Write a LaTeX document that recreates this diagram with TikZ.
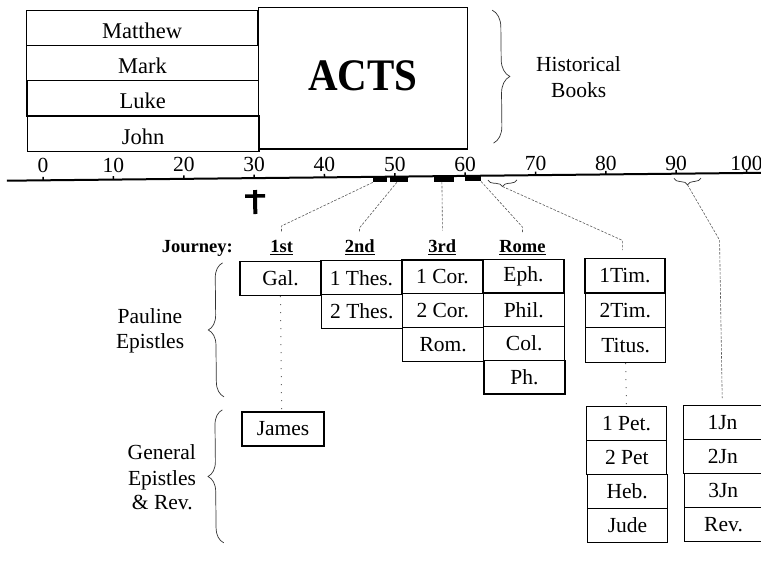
\documentclass[tikz,border=0pt]{standalone}
\usepackage{fontspec}
\setmainfont{Liberation Serif}
\usepackage{graphicx}
\usetikzlibrary{decorations.pathreplacing}
\begin{document}
\begin{tikzpicture}[x=1pt,y=-1pt,
  txt/.style={font=\fontsize{21.5}{25}\selectfont, inner sep=0pt, anchor=base},
  cell/.style={draw, line width=1.2pt, inner sep=0pt, font=\fontsize{21.5}{25}\selectfont},
  gospel/.style={cell, font=\fontsize{22.5}{25}\selectfont, minimum width=231.5pt, minimum height=35.3pt, text height=21pt, text depth=0pt},
  pcell/.style={cell, minimum width=81pt, minimum height=33.7pt},
  tcell/.style={cell, minimum width=80pt, minimum height=34.8pt},
  gcell/.style={cell, minimum width=80pt, minimum height=34pt},
  jcell/.style={cell, minimum width=78pt, minimum height=34pt},
  jlab/.style={font=\fontsize{18.5}{22}\selectfont\bfseries, inner sep=0pt, anchor=base},
  conn/.style={draw=black!65, line width=0.6pt, dash pattern=on 2.5pt off 1.5pt},
  dotline/.style={draw=black!60, line width=1pt, dash pattern=on 1pt off 7pt},
  bracestyle/.style={draw=black!80, line width=0.7pt, decorate, decoration={brace, amplitude=#1}},
  bar/.style={fill=black, inner sep=0pt, minimum height=6.5pt},
]
\useasboundingbox (0,0) rectangle (761,562);
\begin{scope}[rotate around={0.6:(380,281)}]
% Historical books
\node[gospel] (matt) at (144.75,25.35) {Matthew};
\node[gospel] (mark) at (144.75,60.65) {Mark};
\node[gospel] (luke) at (144.75,95.95) {Luke};
\node[gospel] (john) at (144.75,131.25) {John};
\node[cell, minimum width=209pt, minimum height=141.2pt] (acts) at (365,78.3) {};
\node[inner sep=0pt] (actstxt) at (365,75.8) {\scalebox{1}[1.1]{\fontsize{41}{41}\selectfont\bfseries ACTS}};
\draw[bracestyle=17] (495,11.3) -- (495,144.3);
\node[txt] (hist1) at (580.6,74) {Historical};
\node[txt] (hist2) at (580.6,100) {Books};
% timeline
\draw[line width=2pt] (8,176.8) -- (775,176.8);
\foreach \yr in {0,10,...,100}{
  \draw[line width=1.5pt] ({44.2+7.035*\yr},173.3) -- ({44.2+7.035*\yr},176.8);
  \node[txt] (yr\yr) at ({44.2+7.035*\yr},{168.9+0.05*\yr}) {\yr};
}
\node[bar, minimum width=14pt] (b1) at (381,179) {};
\node[bar, minimum width=18pt] (b2) at (400,179) {};
\node[bar, minimum width=20pt] (b3) at (445,179) {};
\node[bar, minimum width=16pt] (b4) at (474,179) {};
\draw[bracestyle=6.5] (518,181.3) -- (489,181.3);
\coordinate (br1) at (503.5,187.8);
\draw[bracestyle=6.5] (702,181.5) -- (675,181.5);
\coordinate (br2) at (688.5,188);
% cross
\draw[line width=4pt] (256,188.7) -- (256,212.7);
\draw[line width=3.5pt] (246,194.7) -- (266,194.7);
% journey labels
\node[jlab, anchor=base east] (journey) at (233.3,251.1) {Journey:};
\node[jlab] (j1) at (282,251.2) {\underline{1st}};
\node[jlab] (j2) at (360,252.2) {\underline{2nd}};
\node[jlab] (j3) at (442.5,253.2) {\underline{3rd}};
\node[jlab] (j4) at (522.7,254.1) {\underline{Rome}};
% connectors
\coordinate (c1a) at (282,225); \coordinate (c1b) at (282,230.5);
\draw[conn] (b1.south west) -- (c1a) -- (c1b);
\coordinate (c2a) at (360,227.8); \coordinate (c2b) at (360,232);
\draw[conn] ([xshift=-2pt]b2.south) -- (c2a) -- (c2b);
\coordinate (c3a) at (443,231);
\draw[conn] ([xshift=-2pt]b3.south) -- (c3a);
\coordinate (c4a) at (523,228.5); \coordinate (c4b) at (523,233.5);
\draw[conn] (b4.south east) -- (c4a) -- (c4b);
\coordinate (c5a) at (623,243); \coordinate (c5b) at (623,252.6);
\draw[conn] (br1) -- (c5a) -- (c5b);
\coordinate (c6a) at (720,243.6); \coordinate (c6b) at (721,401.6);
\draw[conn] (br2) -- (c6a) -- (c6b);
% Pauline epistles
\draw[bracestyle=15] (222.8,395.2) -- (222.8,261.2);
\node[txt] (paul1) at (149.4,321) {Pauline};
\node[txt] (paul2) at (149.4,346) {Epistles};
\node[pcell] (gal) at (280.5,277.55) {Gal.};
\node[pcell] (thes1) at (361.5,277.55) {1 Thes.};
\node[pcell] (thes2) at (361.5,311.25) {2 Thes.};
\node[pcell] (cor1) at (442.5,277.55) {1 Cor.};
\node[pcell] (cor2) at (442.5,311.25) {2 Cor.};
\node[pcell] (rom) at (442.5,344.95) {Rom.};
\node[pcell] (eph) at (523.5,277.55) {Eph.};
\node[pcell] (phil) at (523.5,311.25) {Phil.};
\node[pcell] (col) at (523.5,344.95) {Col.};
\node[pcell] (ph) at (523.5,378.65) {Ph.};
\node[tcell] (tim1) at (625,278.1) {1Tim.};
\node[tcell] (tim2) at (625,312.9) {2Tim.};
\node[tcell] (titus) at (625,347.7) {Titus.};
% General epistles
\draw[bracestyle=15] (221,541.2) -- (221,408.2);
\node[txt] (gen1) at (159.9,457) {General};
\node[txt] (gen2) at (159.9,483.4) {Epistles};
\node[txt] (gen3) at (159.9,507.7) {\& Rev.};
\node[cell, minimum width=82pt, minimum height=34pt] (james) at (281.5,428) {James};
\node[gcell] (pet1) at (625,426) {1 Pet.};
\node[gcell] (pet2) at (625,460) {2 Pet};
\node[gcell] (heb) at (625,494) {Heb.};
\node[gcell] (jude) at (625,528) {Jude};
\node[jcell] (jn1) at (721,426) {1Jn};
\node[jcell] (jn2) at (721,460) {2Jn};
\node[jcell] (jn3) at (721,494) {3Jn};
\node[jcell] (rev) at (721,528) {Rev.};
% dotted links
\draw[dotline] (gal.south) -- (gal.south |- james.north);
\draw[dotline] (titus.south) -- (pet1.north);
\end{scope}
\end{tikzpicture}
\end{document}
